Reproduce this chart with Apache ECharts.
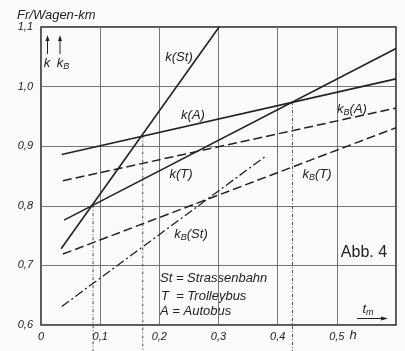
<!DOCTYPE html>
<html><head><meta charset="utf-8">
<script src="https://cdn.jsdelivr.net/npm/echarts@6/dist/echarts.min.js"></script>
<style>html,body{margin:0;padding:0;background:#fbfbfa}#c{width:405px;height:351px}</style>
</head><body><div id="c"></div>
<script>
// Data (x = t_m in h, y = Fr/Wagen-km)
const xTicks = [0, 0.1, 0.2, 0.3, 0.4, 0.5];
const yTicks = [0.6, 0.7, 0.8, 0.9, 1.0, 1.1];
const kSt  = [[0.034, 0.728], [0.301, 1.100]];
const kA   = [[0.035, 0.886], [0.600, 1.013]];
const kT   = [[0.039, 0.776], [0.600, 1.064]];
const kBA  = [[0.037, 0.842], [0.600, 0.964]];
const kBT  = [[0.037, 0.719], [0.600, 0.931]];
const kBSt = [[0.035, 0.631], [0.378, 0.882]];
const drop1 = [[0.088, 0.801], [0.088, 0.555]];
const drop2 = [[0.172, 0.918], [0.172, 0.555]];
const drop3 = [[0.425, 0.974], [0.425, 0.555]];

const INK = '#222';
const FONT = 'Liberation Sans';
const chart = echarts.init(document.getElementById('c'), null, {renderer: 'canvas'});
const fmt = v => (Math.abs(v) < 1e-9 ? '0' : v.toFixed(1).replace('.', ','));
function line(data, type, w, clip) {
  return {type: 'line', data: data, symbol: 'none', silent: true, clip: clip !== false,
    lineStyle: {color: INK, width: w, type: type}, z: 3};
}
function txt(x, y, rich, extra) {
  return {type: 'text', x: x, y: y, style: Object.assign({
    rich: {
      a: {fontFamily: FONT, fontStyle: 'italic', fontSize: 13, lineHeight: 15, fill: INK},
      b: {fontFamily: FONT, fontStyle: 'italic', fontSize: 9, verticalAlign: 'bottom', fill: INK}
    }, text: rich, fill: INK, align: 'center', verticalAlign: 'middle'}, extra || {})};
}
chart.setOption({
  backgroundColor: '#fbfbfa',
  animation: false,
  grid: {left: 41, top: 27, width: 355, height: 298, show: true, borderColor: INK, borderWidth: 1.5},
  xAxis: {type: 'value', min: 0, max: 0.6, interval: 0.1,
    axisLine: {show: false}, axisTick: {show: false},
    splitLine: {lineStyle: {color: '#666', width: 0.9}},
    axisLabel: {margin: 6, color: INK, fontFamily: FONT, fontStyle: 'italic', fontSize: 11,
      formatter: v => (xTicks.some(t => Math.abs(t - v) < 1e-6) ? fmt(v) : '')}},
  yAxis: {type: 'value', min: 0.6, max: 1.1, interval: 0.1,
    axisLine: {show: false}, axisTick: {show: false},
    splitLine: {lineStyle: {color: '#666', width: 0.9}},
    axisLabel: {margin: 8, color: INK, fontFamily: FONT, fontStyle: 'italic', fontSize: 11,
      formatter: v => (yTicks.some(t => Math.abs(t - v) < 1e-6) ? fmt(v) : '')}},
  series: [
    line(kSt, 'solid', 1.6), line(kA, 'solid', 1.6), line(kT, 'solid', 1.6),
    line(kBA, [9, 4], 1.5), line(kBT, [9, 4], 1.5), line(kBSt, [9, 3, 2, 3], 1.3),
    line(drop1, [3, 2, 1, 2], 0.8, false), line(drop2, [3, 2, 1, 2], 0.8, false),
    line(drop3, [3, 2, 1, 2], 0.8, false)
  ],
  graphic: [
    txt(17, 15, '{a|Fr/Wagen-km}', {align: 'left'}),
    // arrows k, kB
    {type: 'line', shape: {x1: 47.5, y1: 39, x2: 47.5, y2: 54}, style: {stroke: INK, lineWidth: 1}},
    {type: 'polygon', shape: {points: [[47.5, 35], [45.5, 41], [49.5, 41]]}, style: {fill: INK}},
    {type: 'line', shape: {x1: 60, y1: 39, x2: 60, y2: 54}, style: {stroke: INK, lineWidth: 1}},
    {type: 'polygon', shape: {points: [[60, 35], [58, 41], [62, 41]]}, style: {fill: INK}},
    txt(47, 63, '{a|k}'),
    txt(63, 63, '{a|k}{b|B}'),
    // curve labels
    txt(179, 57, '{a|k(St)}'),
    txt(193, 115, '{a|k(A)}'),
    txt(352, 109, '{a|k}{b|B}{a|(A)}'),
    txt(181, 174, '{a|k(T)}'),
    txt(317, 174, '{a|k}{b|B}{a|(T)}'),
    txt(191, 234, '{a|k}{b|B}{a|(St)}'),
    // legend
    txt(160, 278, '{a|St = Strassenbahn}', {align: 'left'}),
    txt(161, 296, '{a|T  = Trolleybus}', {align: 'left'}),
    txt(160, 311, '{a|A = Autobus}', {align: 'left'}),
    // Abb. 4
    {type: 'text', x: 364, y: 253, style: {text: 'Abb. 4', fontFamily: FONT, fontSize: 16, fill: INK, align: 'center', verticalAlign: 'middle'}},
    // t_m arrow
    txt(368, 309, '{a|t}{b|m}'),
    {type: 'line', shape: {x1: 357, y1: 318.5, x2: 383, y2: 318.5}, style: {stroke: INK, lineWidth: 1}},
    {type: 'polygon', shape: {points: [[388, 318.5], [381, 316.5], [381, 320.5]]}, style: {fill: INK}},
    // h unit
    txt(353, 335, '{a|h}')
  ]
});
</script></body></html>
